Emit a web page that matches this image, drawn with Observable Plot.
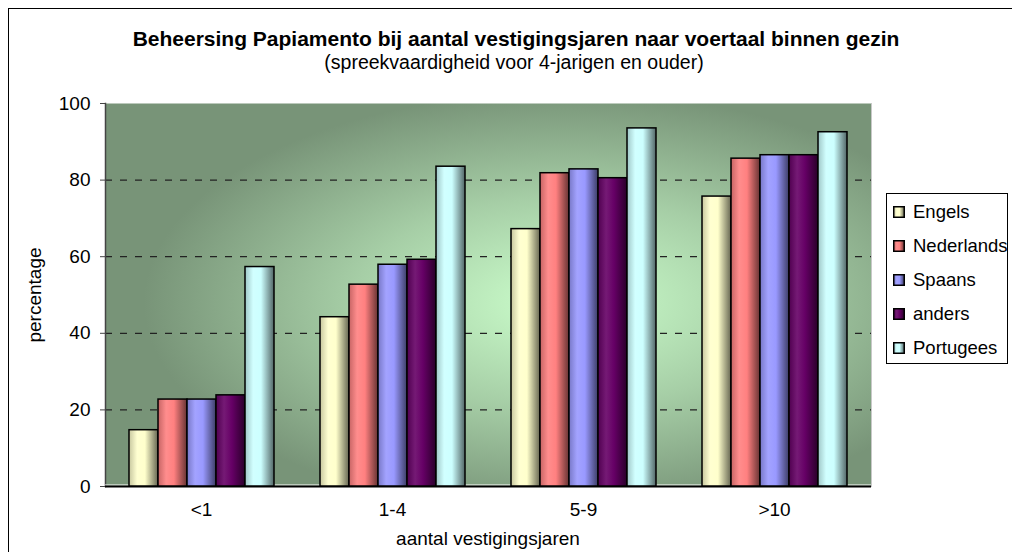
<!DOCTYPE html>
<html><head><meta charset="utf-8">
<script src="https://cdn.jsdelivr.net/npm/d3@7"></script>
<script src="https://cdn.jsdelivr.net/npm/@observablehq/plot@0.6"></script>
<style>
body{margin:0;background:#fff;font-family:"Liberation Sans",Arial,sans-serif;}
#chart{position:relative;width:1012px;height:552px;overflow:hidden;background:#fff;}
#border{position:absolute;left:8px;top:8px;width:1200px;height:800px;border:1px solid #000;box-sizing:border-box;}
.layer{position:absolute;left:0;top:0;}
#title{position:absolute;left:0;width:1032px;top:28px;text-align:center;font-weight:bold;font-size:21px;line-height:21px;white-space:nowrap;}
#subtitle{position:absolute;left:0;width:1028px;top:53px;text-align:center;font-size:19.5px;line-height:19px;white-space:nowrap;}
#legend{position:absolute;left:886px;top:193px;width:122px;height:171px;border:1px solid #000;box-sizing:border-box;background:#fff;}
.item{position:absolute;left:6px;height:34px;display:flex;align-items:center;font-size:18.5px;}
</style></head><body>
<div id="chart">
<div id="border"></div>
<svg width="0" height="0" style="position:absolute"><defs id="defs"></defs></svg>
<div id="bg" class="layer"></div>
<div id="bars" class="layer"></div>
<div id="title">Beheersing Papiamento bij aantal vestigingsjaren naar voertaal binnen gezin</div>
<div id="subtitle">(spreekvaardigheid voor 4-jarigen en ouder)</div>
<div id="legend"></div>
</div>
<script>
const categories = ["<1", "1-4", "5-9", ">10"];
const series = ["Engels", "Nederlands", "Spaans", "anders", "Portugees"];
const Engels     = [14.7, 44.2, 67.2, 75.7];
const Nederlands = [22.7, 52.7, 81.8, 85.6];
const Spaans     = [22.7, 57.9, 82.8, 86.5];
const anders     = [23.8, 59.2, 80.5, 86.5];
const Portugees  = [57.3, 83.5, 93.5, 92.5];
const seriesValues = [Engels, Nederlands, Spaans, anders, Portugees];
const baseColors = ["#ffffcc", "#ff8080", "#9999ff", "#660066", "#ccffff"];

const data = [];
series.forEach((s, i) => categories.forEach((c, j) => data.push({cat: c, lang: s, value: seriesValues[i][j]})));

// gradients
const ns = "http://www.w3.org/2000/svg";
const defs = document.getElementById("defs");
function addStop(g, off, col){const st=document.createElementNS(ns,"stop");st.setAttribute("offset",off);st.setAttribute("stop-color",col);g.appendChild(st);}
baseColors.forEach((c, i) => {
  const g = document.createElementNS(ns, "linearGradient");
  g.setAttribute("id", "g" + i); g.setAttribute("x1", "0"); g.setAttribute("x2", "1"); g.setAttribute("y1", "0"); g.setAttribute("y2", "0");
  addStop(g, 0, d3.interpolateRgb(c, "#000")(0.22));
  addStop(g, 0.28, d3.interpolateRgb(c, "#fff")(0.1));
  addStop(g, 0.55, c);
  addStop(g, 1, d3.interpolateRgb(c, "#000")(0.6));
  defs.appendChild(g);
});
const rg = document.createElementNS(ns, "radialGradient");
rg.setAttribute("id", "bgGrad"); rg.setAttribute("cx", "0.6"); rg.setAttribute("cy", "0.52"); rg.setAttribute("r", "0.55");
addStop(rg, 0, "#ccffcc"); addStop(rg, 0.5, "#a6cea6"); addStop(rg, 1, "#789478");
defs.appendChild(rg);
const urls = series.map((s, i) => `url(#g${i})`);

const W = 1012, H = 552;
const margins = {marginLeft: 105, marginRight: 141, marginTop: 103, marginBottom: 66};
const style = {background: "transparent", fontFamily: '"Liberation Sans", Arial, sans-serif', fontSize: "19px", color: "#000", overflow: "visible"};

const bg = Plot.plot({
  width: W, height: H, ...margins, style,
  y: {domain: [0, 100]},
  marks: [
    Plot.frame({fill: "url(#bgGrad)", stroke: null}),
    Plot.gridY([20, 40, 60, 80], {stroke: "#222", strokeOpacity: 1, strokeDasharray: "7,8", strokeWidth: 1.2}),
    Plot.frame({anchor: "right", stroke: "#c8c8c8"}),
    Plot.axisY({ticks: [0, 20, 40, 60, 80, 100], tickSize: 5, tickPadding: 10, stroke: "#444", label: "percentage", labelAnchor: "center", labelOffset: 78, labelArrow: "none"}),
    Plot.frame({anchor: "left", stroke: "#444", strokeWidth: 1.5}),
    Plot.ruleY([0], {stroke: "#fff", strokeWidth: 1, dy: -1.5}),
    Plot.ruleY([0], {stroke: "#000", strokeWidth: 2})
  ]
});
document.getElementById("bg").appendChild(bg);

const bars = Plot.plot({
  width: W, height: H, ...margins, style,
  fx: {domain: categories, paddingInner: 0.2235, paddingOuter: 0.1118, label: null},
  x: {domain: series, padding: 0, axis: null},
  y: {domain: [0, 100], axis: null},
  color: {domain: series, range: urls},
  marks: [
    Plot.barY(data, {fx: "cat", x: "lang", y: "value", fill: "lang", stroke: "#000", strokeWidth: 1.5}),
    Plot.axisFx({anchor: "bottom", tickSize: 0, tickPadding: 16, label: "aantal vestigingsjaren", labelAnchor: "center", labelOffset: 58, labelArrow: "none"})
  ]
});
document.getElementById("bars").appendChild(bars);

// legend
const leg = document.getElementById("legend");
series.forEach((s, i) => {
  const it = document.createElement("div");
  it.className = "item";
  it.style.top = (1 + i * 34) + "px";
  it.innerHTML = `<svg width="12" height="12" style="margin-right:8px"><rect x="0.75" y="0.75" width="10.5" height="10.5" fill="url(#g${i})" stroke="#000" stroke-width="1.5"/></svg><span>${s}</span>`;
  leg.appendChild(it);
});
</script>
</body></html>
